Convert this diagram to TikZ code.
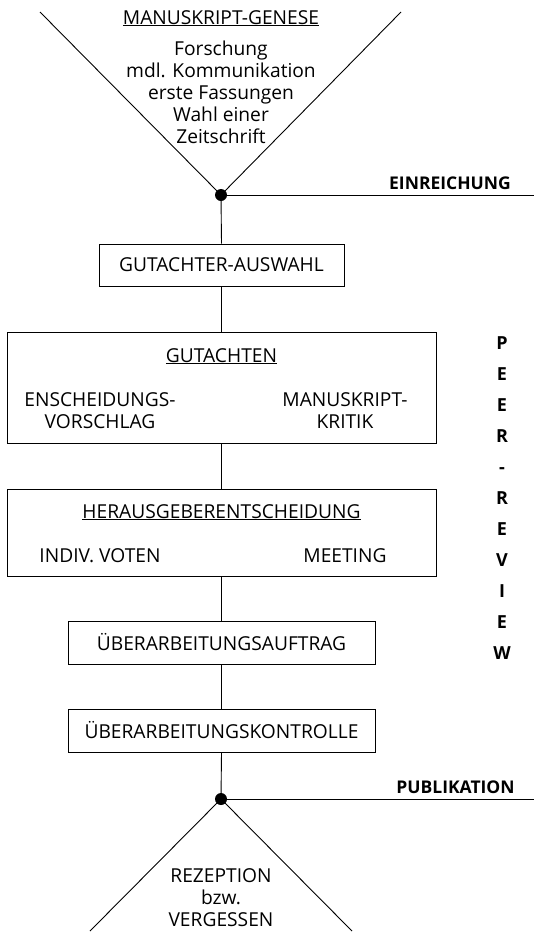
\documentclass[tikz,border=0pt]{standalone}
\usepackage{fontspec}
\setmainfont{Open Sans}
\newcommand\dfont{\fontsize{19.2}{22}\selectfont}
\newcommand\bfont{\fontsize{17.5}{22}\selectfont\bfseries}
\begin{document}
\begin{tikzpicture}[x=1pt,y=-1pt,
  every node/.style={font=\dfont, inner sep=0pt},
  box/.style={draw, line width=0.9pt},
  link/.style={line width=0.9pt},
  dotn/.style={circle, fill=black, minimum size=12pt, inner sep=0pt},
  lbl/.style={font=\bfont, anchor=base}]
\useasboundingbox (0,0) rectangle (534,932);
% top V
\coordinate (tl) at (40,12);
\coordinate (tr) at (401,12);
\node[dotn] (d1) at (221,195) {};
\coordinate (er) at (534,195);
\draw[link] (tl) -- (d1.center) -- (tr);
\draw[link] (d1.center) -- (er);
\node[anchor=base] (gen) at (221,24) {\underline{MANUSKRIPT-GENESE}};
\node[align=center] (gentext) at (221,92) {Forschung\\mdl. Kommunikation\\erste Fassungen\\Wahl einer\\Zeitschrift};
\node[lbl] (einr) at (450,189) {EINREICHUNG};
% boxes
\node[box, minimum width=245pt, minimum height=42pt] (b1) at (221.5,265) {GUTACHTER-AUSWAHL};
\node[box, minimum width=429pt, minimum height=111pt] (b2) at (221.5,387.5) {};
\node[anchor=base] (b2t) at (221.5,362) {\underline{GUTACHTEN}};
\node[align=center] (b2l) at (100,410.5) {ENSCHEIDUNGS-\\VORSCHLAG};
\node[align=center] (b2r) at (345,410.5) {MANUSKRIPT-\\KRITIK};
\node[box, minimum width=429pt, minimum height=87pt] (b3) at (221.5,532.5) {};
\node[anchor=base] (b3t) at (221.5,518) {\underline{HERAUSGEBERENTSCHEIDUNG}};
\node[anchor=base] (b3l) at (100,562) {INDIV. VOTEN};
\node[anchor=base] (b3r) at (345,562) {MEETING};
\node[box, minimum width=307pt, minimum height=43pt] (b4) at (221.5,642.5) {ÜBERARBEITUNGSAUFTRAG};
\node[box, minimum width=307pt, minimum height=43pt] (b5) at (221.5,730.5) {ÜBERARBEITUNGSKONTROLLE};
% connectors
\draw[link] (d1.center) -- (b1.north);
\draw[link] (b1.south) -- (b2.north);
\draw[link] (b2.south) -- (b3.north);
\draw[link] (b3.south) -- (b4.north);
\draw[link] (b4.south) -- (b5.north);
\node[dotn] (d2) at (221,799) {};
\draw[link] (b5.south) -- (d2.center);
% bottom
\coordinate (pr) at (534,799);
\coordinate (bl) at (90,931);
\coordinate (br) at (352,931);
\draw[link] (bl) -- (d2.center) -- (br);
\draw[link] (d2.center) -- (pr);
\node[lbl] (publ) at (455.5,793) {PUBLIKATION};
\node[align=center] (rez) at (221,898) {REZEPTION\\bzw.\\VERGESSEN};
% peer review
\node[align=center, font=\fontsize{18}{31}\selectfont\bfseries] (peer) at (502,498) {P\\E\\E\\R\\-\\R\\E\\V\\I\\E\\W};
\end{tikzpicture}
\end{document}
